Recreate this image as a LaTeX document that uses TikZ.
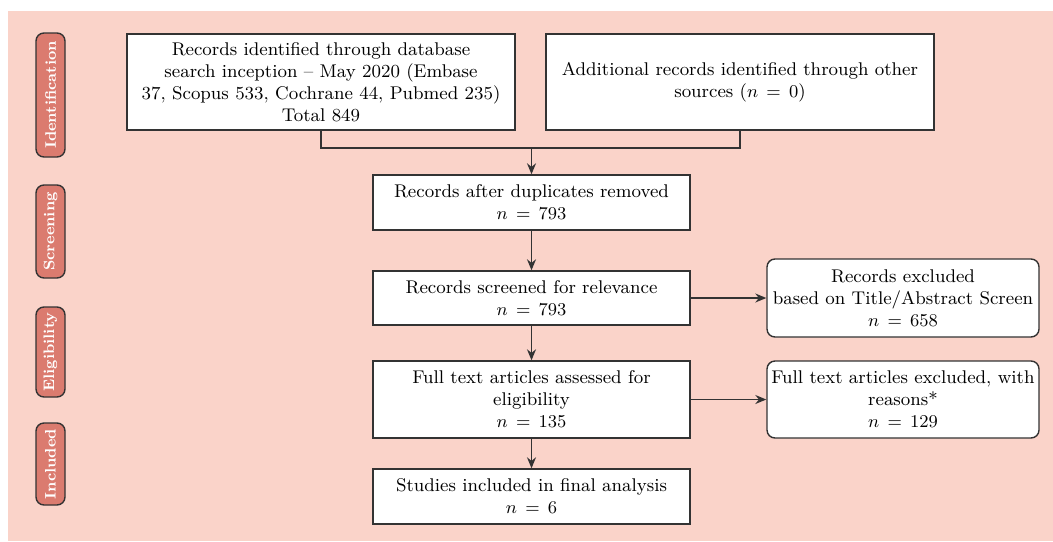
\documentclass[tikz,border=0pt]{standalone}
\usepackage{amsmath,amssymb}
\usetikzlibrary{arrows.meta}
\definecolor{bgpink}{HTML}{FAD3C9}
\definecolor{tagred}{HTML}{DB7B6F}
\definecolor{linegrey}{HTML}{333333}
\begin{document}
\begin{tikzpicture}[x=0.5pt, y=-0.5pt,
  every node/.style={font=\fontsize{9.2}{11}\selectfont},
  flowbox/.style={draw=linegrey, line width=0.7pt, fill=white, align=center, inner sep=1pt},
  exclbox/.style={flowbox, rounded corners=4pt},
  phasetag/.style={draw=linegrey, line width=0.7pt, fill=tagred, rounded corners=4pt, rotate=90,
    minimum height=14.5pt, inner sep=0pt, text=white, font=\fontsize{7.6}{10}\selectfont\bfseries},
  >={Stealth[length=5.5pt,width=4.5pt]}]
         \useasboundingbox (0,0) rectangle (1053,541);
         \fill[bgpink] (8,11) rectangle (1053,541);
         \node[phasetag, minimum width=62pt] (TI) at (50.5, 95) {Identification};
         \node[phasetag, minimum width=46.5pt] (TS) at (50.5, 231.5) {Screening};
         \node[phasetag, minimum width=45pt] (TE) at (50.5, 352) {Eligibility};
         \node[phasetag, minimum width=41pt] (TN) at (50.5, 464) {Included};
         \node[flowbox, minimum width=194pt, minimum height=48pt] (DB) at (321, 82)
           {Records identified through database\\ search inception -- May 2020 (Embase\\ 37, Scopus 533, Cochrane 44, Pubmed 235)\\ Total 849};
         \node[flowbox, minimum width=194pt, minimum height=48pt] (OS) at (740, 82)
           {Additional records identified through other\\ sources ($n\,=\,0$)};
         \coordinate (MG) at (531.5, 148);
         \node[flowbox, minimum width=158.5pt, minimum height=27.5pt] (DR) at (531.5, 202.5)
           {Records after duplicates removed\\ $n\,=\,793$};
         \node[flowbox, minimum width=158.5pt, minimum height=27pt] (SC) at (531.5, 298)
           {Records screened for relevance\\ $n\,=\,793$};
         \node[flowbox, minimum width=158.5pt, minimum height=38.5pt] (FT) at (531.5, 399.5)
           {Full text articles assessed for\\ eligibility\\ $n\,=\,135$};
         \node[flowbox, minimum width=158.5pt, minimum height=27.5pt] (IN) at (531.5, 496.5)
           {Studies included in final analysis\\ $n\,=\,6$};
         \node[exclbox, minimum width=136pt, minimum height=39pt] (XA) at (903, 298)
           {Records excluded\\ based on Title/Abstract Screen\\ $n\,=\,658$};
         \node[exclbox, minimum width=136pt, minimum height=38.5pt] (XB) at (903, 399.5)
           {Full text articles excluded, with\\ reasons*\\ $n\,=\,129$};
         \draw [linegrey, line width=0.7pt] (DB.south) |- (MG);
         \draw [linegrey, line width=0.7pt] (OS.south) |- (MG);
         \draw [->, linegrey, line width=0.7pt] (MG) -- (DR);
         \draw [->, linegrey, line width=0.7pt] (DR) -- (SC);
         \draw [->, linegrey, line width=0.7pt] (SC) -- (FT);
         \draw [->, linegrey, line width=0.7pt] (FT) -- (IN);
         \draw [->, linegrey, line width=0.7pt] (SC) -- (XA);
         \draw [->, linegrey, line width=0.7pt] (FT) -- (XB);
\end{tikzpicture}
\end{document}
